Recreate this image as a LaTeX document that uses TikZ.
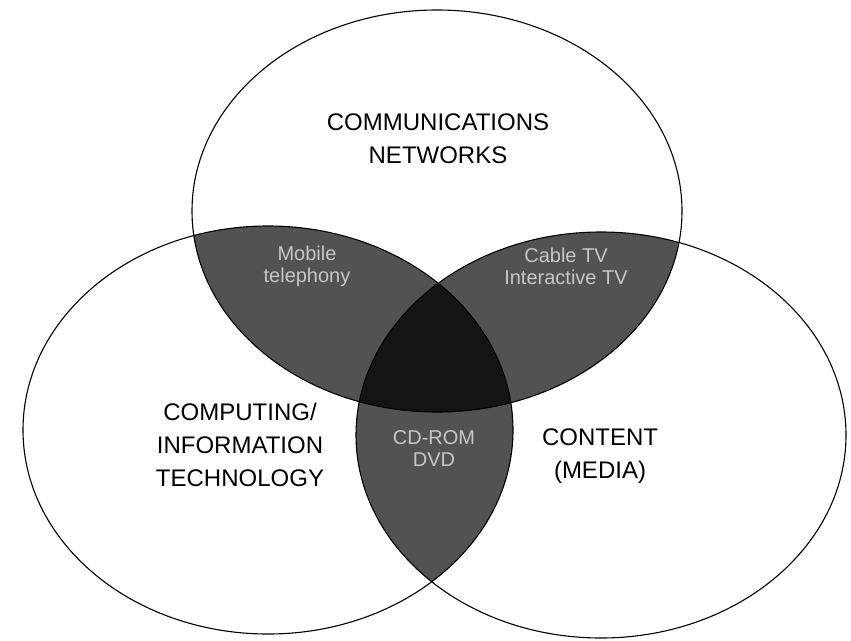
\documentclass[tikz,border=0pt]{standalone}
\usepackage{fontspec}
\setmainfont{Liberation Sans}
\begin{document}
\begin{tikzpicture}[x=1pt,y=-1pt,
  outline/.style={draw=black,line width=1.1pt},
  pairfill/.style={fill=black!68},
  triplefill/.style={fill=black!92},
  biglabel/.style={align=center,font=\fontsize{24}{33}\selectfont,text=black},
  smalllabel/.style={align=center,font=\fontsize{20}{22}\selectfont,text=black!22}]
\useasboundingbox (0,0) rectangle (851,640);
\fill[white] (0,0) rectangle (851,640);

% the three sets
\def\topset{(437,211) ellipse [x radius=245,y radius=201]}
\def\leftset{(268,430) ellipse [x radius=245,y radius=204]}
\def\rightset{(601,435) ellipse [x radius=245,y radius=203]}

% pairwise overlaps
\begin{scope}
  \clip \topset;
  \fill[pairfill] \leftset;
  \fill[pairfill] \rightset;
\end{scope}
\begin{scope}
  \clip \leftset;
  \fill[pairfill] \rightset;
\end{scope}
% overlap of all three
\begin{scope}
  \clip \topset;
  \clip \leftset;
  \fill[triplefill] \rightset;
\end{scope}

% outlines
\draw[outline] \topset;
\draw[outline] \leftset;
\draw[outline] \rightset;

% set labels
\node[biglabel] (comm) at (438,139) {COMMUNICATIONS\\NETWORKS};
\node[biglabel] (comp) at (240,445) {COMPUTING/\\INFORMATION\\TECHNOLOGY};
\node[biglabel] (cont) at (600,456) {CONTENT\\(MEDIA)};

% overlap labels
\node[smalllabel] (mob) at (307,266) {Mobile\\telephony};
\node[smalllabel] (cab) at (566,266) {Cable TV\\Interactive TV};
\node[smalllabel] (cdr) at (434,449) {CD-ROM\\DVD};
\end{tikzpicture}
\end{document}
